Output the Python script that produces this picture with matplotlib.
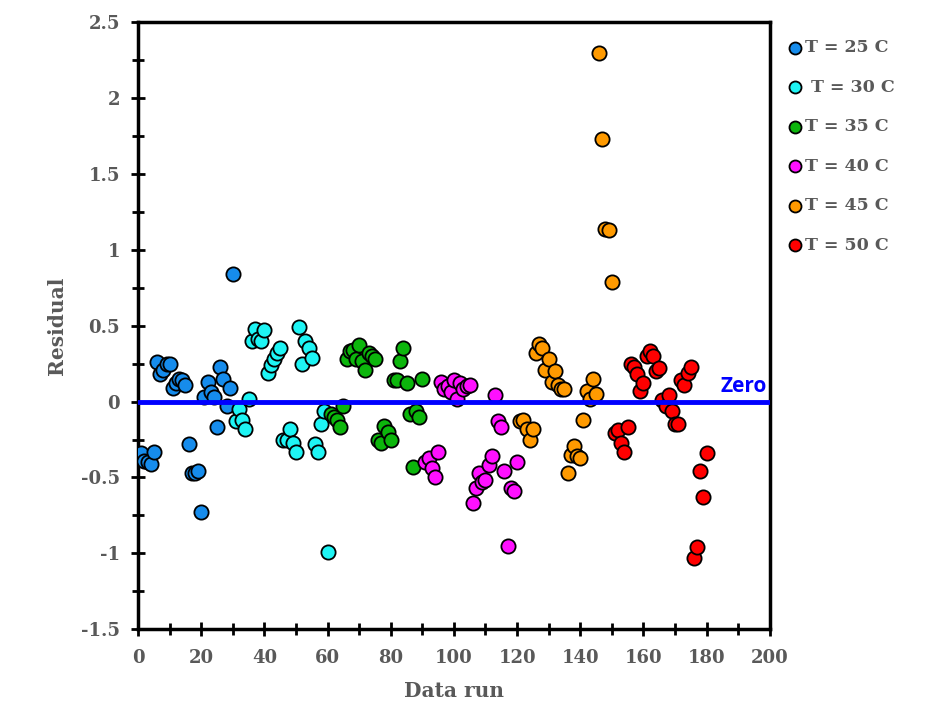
import numpy as np
import matplotlib
matplotlib.use('Agg')
import matplotlib.pyplot as plt
from matplotlib.ticker import MultipleLocator

# residuals per temperature group (data run = 1..180)
run_25 = list(range(1, 31))
res_25 = [-0.34, -0.39, -0.40, -0.41, -0.33, 0.26, 0.18, 0.21, 0.25, 0.25,
          0.09, 0.12, 0.15, 0.14, 0.11, -0.28, -0.47, -0.47, -0.46, -0.73,
          0.03, 0.13, 0.06, 0.03, -0.17, 0.23, 0.15, -0.03, 0.09, 0.84]

run_30 = list(range(31, 61))
res_30 = [-0.13, -0.05, -0.12, -0.18, 0.02, 0.40, 0.48, 0.41, 0.40, 0.47,
          0.19, 0.24, 0.28, 0.32, 0.35, -0.25, -0.25, -0.18, -0.27, -0.33,
          0.49, 0.25, 0.40, 0.35, 0.29, -0.28, -0.33, -0.15, -0.06, -0.99]

run_35 = list(range(61, 91))
res_35 = [-0.08, -0.10, -0.12, -0.17, -0.03, 0.28, 0.33, 0.34, 0.28, 0.37,
          0.27, 0.21, 0.32, 0.30, 0.28, -0.25, -0.27, -0.16, -0.20, -0.25,
          0.14, 0.14, 0.27, 0.35, 0.12, -0.08, -0.43, -0.06, -0.10, 0.15]

run_40 = list(range(91, 121))
res_40 = [-0.40, -0.37, -0.44, -0.50, -0.33, 0.13, 0.08, 0.10, 0.06, 0.14,
          0.02, 0.12, 0.08, 0.10, 0.11, -0.67, -0.57, -0.47, -0.53, -0.52,
          -0.42, -0.36, 0.04, -0.13, -0.17, -0.46, -0.95, -0.57, -0.59, -0.40]

run_45 = list(range(121, 151))
res_45 = [-0.13, -0.12, -0.18, -0.25, -0.18, 0.32, 0.38, 0.35, 0.21, 0.28,
          0.13, 0.20, 0.11, 0.08, 0.08, -0.47, -0.35, -0.29, -0.36, -0.37,
          -0.12, 0.07, 0.02, 0.15, 0.05, 2.30, 1.73, 1.14, 1.13, 0.79]

run_50 = list(range(151, 181))
res_50 = [-0.21, -0.19, -0.27, -0.33, -0.17, 0.25, 0.23, 0.18, 0.07, 0.12,
          0.30, 0.33, 0.30, 0.20, 0.22, 0.01, -0.03, 0.04, -0.06, -0.15,
          -0.15, 0.14, 0.11, 0.19, 0.23, -1.03, -0.96, -0.46, -0.63, -0.34]

labels = ['T = 25 C', ' T = 30 C', 'T = 35 C', 'T = 40 C', 'T = 45 C', 'T = 50 C']
colors = ['#168cec', '#1ef4f4', '#0cb60c', '#ff10ff', '#ff9a00', '#ff0000']

zero_x = [0, 200]
zero_y = [0, 0]

runs = [run_25, run_30, run_35, run_40, run_45, run_50]
resid = [res_25, res_30, res_35, res_40, res_45, res_50]

grey = '#595959'
serif = 'DejaVu Serif'

fig = plt.figure(figsize=(9.33, 7.15), dpi=100)
ax = fig.add_axes([0.148, 0.120, 0.677, 0.849])

for x, y, c, lab in zip(runs, resid, colors, labels):
    ax.scatter(x, y, s=105, c=c, edgecolors='black', linewidths=1.3, label=lab, zorder=3)

ax.plot(zero_x, zero_y, color='#0000ff', lw=3.5, zorder=4)
ax.text(199, 0.03, 'Zero', color='#0000ff', fontsize=15, fontweight='bold',
        family='Open Sans', ha='right', va='bottom')

ax.set_xlim(0, 200)
ax.set_ylim(-1.5, 2.5)
ax.xaxis.set_major_locator(MultipleLocator(20))
ax.xaxis.set_minor_locator(MultipleLocator(10))
ax.yaxis.set_minor_locator(MultipleLocator(0.25))
ax.set_yticks(np.arange(-1.5, 2.51, 0.5))
ax.set_yticklabels(['-1.5', '-1', '-0.5', '0', '0.5', '1', '1.5', '2', '2.5'])

for s in ax.spines.values():
    s.set_linewidth(2.5)
    s.set_color('black')

ax.tick_params(which='major', direction='inout', length=10, width=2, color='black',
               labelcolor=grey, labelsize=13)
ax.tick_params(which='minor', direction='inout', length=8, width=2, color='black')
ax.tick_params(axis='x', which='major', pad=9)
ax.tick_params(axis='y', which='major', pad=8)
for lab in ax.get_xticklabels() + ax.get_yticklabels():
    lab.set_family(serif)
    lab.set_fontweight('bold')

ax.set_xlabel('Data run', fontsize=14.5, fontweight='bold', color=grey, family=serif, labelpad=10)
ax.set_ylabel('Residual', fontsize=14.5, fontweight='bold', color=grey, family=serif, labelpad=10)

leg = ax.legend(loc='upper left', bbox_to_anchor=(1.005, 0.995), frameon=False,
                handletextpad=0.05, handlelength=1.0, labelspacing=1.3,
                prop={'family': serif, 'weight': 'bold', 'size': 12.5}, borderaxespad=0.4)
for t in leg.get_texts():
    t.set_color(grey)
for h in leg.legend_handles:
    h.set_sizes([75])

fig.savefig('out.png', dpi=100)
